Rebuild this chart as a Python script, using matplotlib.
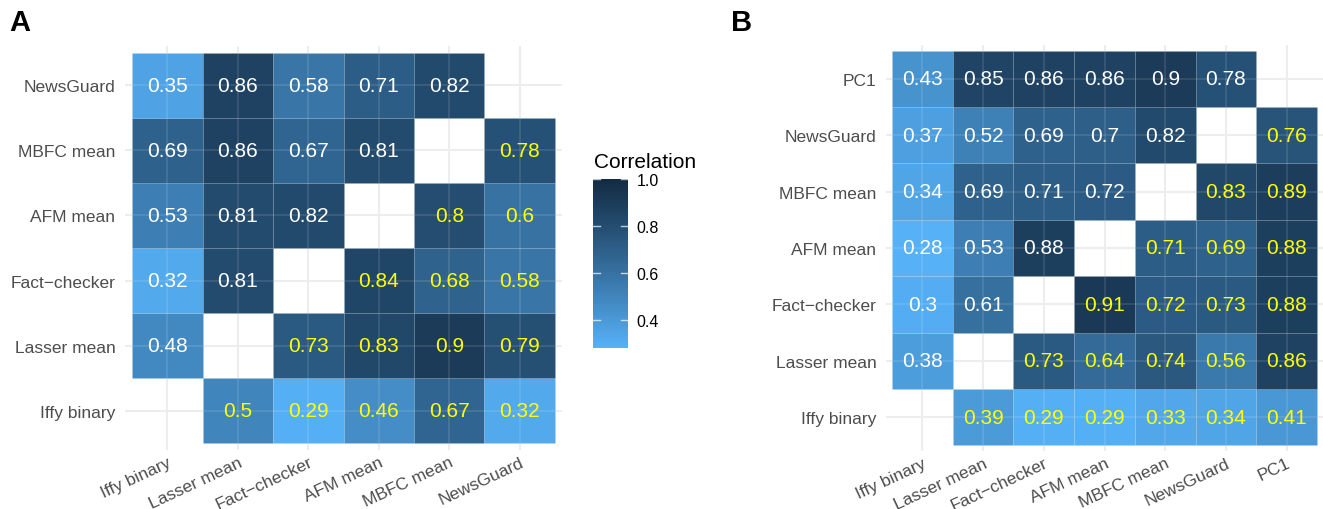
import numpy as np
import matplotlib
matplotlib.use("Agg")
import matplotlib.pyplot as plt
from matplotlib.colors import ListedColormap, Normalize
from matplotlib.colorbar import ColorbarBase

nan = np.nan

labels_a = ["Iffy binary", "Lasser mean", "Fact\u2212checker", "AFM mean", "MBFC mean", "NewsGuard"]
# corr_a[i][j]: row = y category i (bottom to top), column = x category j
corr_a = [
    [nan, 0.5, 0.29, 0.46, 0.67, 0.32],
    [0.48, nan, 0.73, 0.83, 0.9, 0.79],
    [0.32, 0.81, nan, 0.84, 0.68, 0.58],
    [0.53, 0.81, 0.82, nan, 0.8, 0.6],
    [0.69, 0.86, 0.67, 0.81, nan, 0.78],
    [0.35, 0.86, 0.58, 0.71, 0.82, nan],
]

labels_b = ["Iffy binary", "Lasser mean", "Fact\u2212checker", "AFM mean", "MBFC mean", "NewsGuard", "PC1"]
corr_b = [
    [nan, 0.39, 0.29, 0.29, 0.33, 0.34, 0.41],
    [0.38, nan, 0.73, 0.64, 0.74, 0.56, 0.86],
    [0.3, 0.61, nan, 0.91, 0.72, 0.73, 0.88],
    [0.28, 0.53, 0.88, nan, 0.71, 0.69, 0.88],
    [0.34, 0.69, 0.71, 0.72, nan, 0.83, 0.89],
    [0.37, 0.52, 0.69, 0.7, 0.82, nan, 0.76],
    [0.43, 0.85, 0.86, 0.86, 0.9, 0.78, nan],
]

cbar_ticks = [0.4, 0.6, 0.8, 1.0]
vmin, vmax = 0.28, 1.0

plt.rcParams['font.family'] = ['Liberation Sans', 'DejaVu Sans']

# ---- Lab-interpolated gradient (like ggplot2 scale_fill_gradient) ----
_M = np.array([[0.4124, 0.3576, 0.1805], [0.2126, 0.7152, 0.0722], [0.0193, 0.1192, 0.9505]])
_WP = np.array([0.95047, 1.0, 1.08883])

def srgb_to_lab(rgb):
    rgb = np.asarray(rgb, float)
    lin = np.where(rgb <= 0.04045, rgb / 12.92, ((rgb + 0.055) / 1.055) ** 2.4)
    t = (_M @ lin) / _WP
    f = np.where(t > (6/29) ** 3, np.cbrt(t), t / (3 * (6/29) ** 2) + 4/29)
    return np.array([116 * f[1] - 16, 500 * (f[0] - f[1]), 200 * (f[1] - f[2])])

def lab_to_srgb(lab):
    L, a, b = lab
    fy = (L + 16) / 116
    fx = fy + a / 500
    fz = fy - b / 200
    def finv(f):
        return np.where(f > 6/29, f ** 3, 3 * (6/29) ** 2 * (f - 4/29))
    xyz = _WP * np.array([finv(fx), finv(fy), finv(fz)])
    lin = np.clip(np.linalg.inv(_M) @ xyz, 0, 1)
    rgb = np.where(lin <= 0.0031308, 12.92 * lin, 1.055 * lin ** (1/2.4) - 0.055)
    return np.clip(rgb, 0, 1)

def hex2rgb(h):
    h = h.lstrip('#')
    return np.array([int(h[i:i+2], 16) / 255 for i in (0, 2, 4)])

low = srgb_to_lab(hex2rgb("#56B1F7"))
high = srgb_to_lab(hex2rgb("#132B43"))
cols = [lab_to_srgb(low + (high - low) * t) for t in np.linspace(0, 1, 256)]
cmap = ListedColormap(cols)
norm = Normalize(vmin=vmin, vmax=vmax)

W, H = 1323, 510
fig = plt.figure(figsize=(W / 100, H / 100), dpi=100)

grid_col = "#EBEBEB"
label_col = "#4D4D4D"

def draw_panel(rect, labels, corr, letter, letter_x):
    ax = fig.add_axes(rect)
    n = len(labels)
    ax.set_xlim(-0.6, n - 0.4)
    ax.set_ylim(-0.6, n - 0.4)
    for k in range(n):
        ax.axvline(k, color=grid_col, lw=1.5, zorder=0)
        ax.axhline(k, color=grid_col, lw=1.5, zorder=0)
        # faint grid showing through the semi-transparent tiles
        ax.axvline(k, color='white', lw=1.2, alpha=0.12, zorder=2)
        ax.axhline(k, color='white', lw=1.2, alpha=0.12, zorder=2)
    for i in range(n):
        for j in range(n):
            v = corr[i][j]
            if np.isnan(v):
                continue
            ax.add_patch(plt.Rectangle((j - 0.5, i - 0.5), 1, 1, facecolor=cmap(norm(v)),
                                       edgecolor=(1, 1, 1, 0.07), lw=0.6, zorder=1))
            ax.text(j, i, f"{v:g}", ha='center', va='center', fontsize=15,
                    color='white' if i > j else '#FFFF00', zorder=3)
    ax.set_xticks(range(n))
    ax.set_yticks(range(n))
    ax.set_xticklabels(labels, rotation=25, ha='right', va='top', rotation_mode='anchor',
                       fontsize=12.5, color=label_col)
    ax.set_yticklabels(labels, fontsize=12.5, color=label_col)
    ax.tick_params(axis='y', length=0, pad=7)
    ax.tick_params(axis='x', length=0, pad=3)
    for s in ax.spines.values():
        s.set_visible(False)
    fig.text(letter_x / W, 1 - 23 / H, letter, fontsize=21, fontweight='bold', ha='left', va='center')
    return ax

draw_panel([125 / W, 59 / H, 437 / W, 404 / H], labels_a, corr_a, "A", 9)
draw_panel([886 / W, 58 / H, 437 / W, 406 / H], labels_b, corr_b, "B", 731)

cax = fig.add_axes([593 / W, (H - 349) / H, 35 / W, 169 / H])
cb = ColorbarBase(cax, cmap=cmap, norm=norm, orientation='vertical', ticks=cbar_ticks)
cb.outline.set_visible(False)
cax.tick_params(length=0, pad=6, labelsize=11.5)
cax.set_yticklabels([f"{t:.1f}" for t in cbar_ticks])
for t in cbar_ticks:
    cax.plot([0, 0.2], [t, t], color='white', lw=1, alpha=0.7, transform=cax.get_yaxis_transform())
    cax.plot([0.8, 1.0], [t, t], color='white', lw=1, alpha=0.7, transform=cax.get_yaxis_transform())
fig.text(594 / W, 1 - 162 / H, "Correlation", fontsize=15, ha='left', va='center')

fig.savefig("out.png", dpi=100)
